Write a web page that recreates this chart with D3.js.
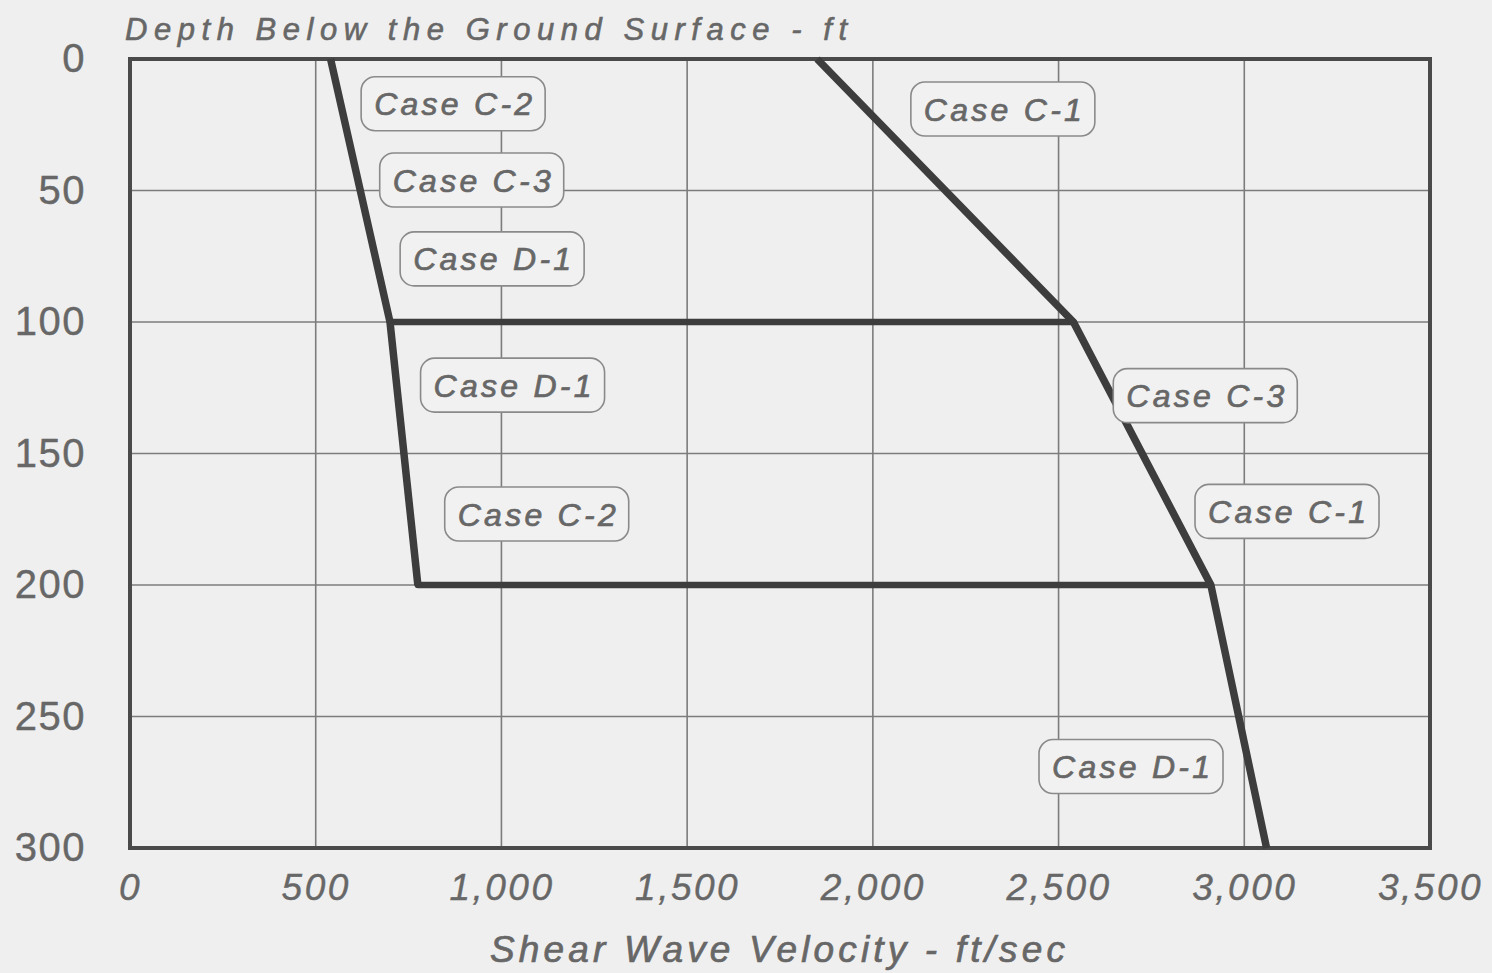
<!DOCTYPE html>
<html>
<head>
<meta charset="utf-8">
<script src="https://cdn.jsdelivr.net/npm/d3@7"></script>
<style>
  html, body { margin: 0; padding: 0; background: #efefef; }
  svg { display: block; }
</style>
</head>
<body>
<svg id="chart" width="1492" height="973"></svg>
<script>
// Shear wave velocity profiles (ft/sec) against depth (ft)
const leftDepths = [0, 100, 200];
const leftVelocity = [540, 700, 775];

const rightDepths = [0, 100, 200, 300];
const rightVelocity = [1850, 2540, 2910, 3060];

// Layer boundaries joining the two profiles
const boundaryDepths = [100, 200];
const boundaryFrom = [700, 775];
const boundaryTo = [2540, 2910];

// Axis ticks
const xTicks = [0, 500, 1000, 1500, 2000, 2500, 3000, 3500];
const xTickLabels = ["0", "500", "1,000", "1,500", "2,000", "2,500", "3,000", "3,500"];
const yTicks = [0, 50, 100, 150, 200, 250, 300];

// Case annotations, placed in data coordinates (velocity, depth)
const caseNames = ["Case C-2", "Case C-3", "Case D-1", "Case D-1", "Case C-2",
                   "Case C-1", "Case C-3", "Case C-1", "Case D-1"];
const caseVelocity = [870, 920, 975, 1030, 1095, 2350, 2895, 3115, 2695];
const caseDepth = [17, 46, 76, 124, 173, 19, 128, 172, 269];

const svg = d3.select("#chart");
const plot = { left: 130, right: 1430, top: 59, bottom: 848 };

const x = d3.scaleLinear().domain([0, 3500]).range([plot.left, plot.right]);
const y = d3.scaleLinear().domain([0, 300]).range([plot.top, plot.bottom]);

const ink = "#3d3d3d";
const textGray = "#676767";
const fontFamily = "Liberation Sans, Arial, sans-serif";

// Slightly heavier strokes on glyphs for the printed look
function heavy(sel, w) {
  return sel.attr("stroke", textGray).attr("stroke-width", w).attr("paint-order", "stroke");
}

// Grid
svg.append("g")
  .selectAll("line")
  .data(xTicks.slice(1, -1))
  .join("line")
  .attr("x1", d => x(d)).attr("x2", d => x(d))
  .attr("y1", plot.top).attr("y2", plot.bottom)
  .attr("stroke", "#7c7c7c").attr("stroke-width", 1.6);

svg.append("g")
  .selectAll("line")
  .data(yTicks.slice(1, -1))
  .join("line")
  .attr("x1", plot.left).attr("x2", plot.right)
  .attr("y1", d => y(d)).attr("y2", d => y(d))
  .attr("stroke", "#7c7c7c").attr("stroke-width", 1.6);

// Frame
svg.append("rect")
  .attr("x", plot.left).attr("y", plot.top)
  .attr("width", plot.right - plot.left).attr("height", plot.bottom - plot.top)
  .attr("fill", "none").attr("stroke", "#4a4a4a").attr("stroke-width", 4);

// Axis tick labels
const xAxis = d3.axisBottom(x).tickValues(xTicks)
  .tickFormat((d, i) => xTickLabels[i]).tickSize(0).tickPadding(26);
svg.append("g")
  .attr("transform", `translate(0,${plot.bottom})`)
  .call(xAxis)
  .call(g => g.select(".domain").remove())
  .call(g => g.selectAll("text")
    .attr("font-family", fontFamily)
    .attr("font-size", 37)
    .attr("font-style", "italic")
    .attr("letter-spacing", 2.5)
    .attr("fill", textGray)
    .call(heavy, 0.4));

const yAxis = d3.axisLeft(y).tickValues(yTicks).tickSize(0).tickPadding(44);
svg.append("g")
  .attr("transform", `translate(${plot.left},0)`)
  .call(yAxis)
  .call(g => g.select(".domain").remove())
  .call(g => g.selectAll("text")
    .attr("font-family", fontFamily)
    .attr("font-size", 40)
    .attr("letter-spacing", 1.5)
    .attr("fill", textGray)
    .call(heavy, 0.4));

// Axis titles
svg.append("text")
  .attr("x", 125).attr("y", 40)
  .attr("font-family", fontFamily)
  .attr("font-size", 31).attr("font-style", "italic")
  .attr("textLength", 722).attr("lengthAdjust", "spacing")
  .attr("fill", textGray)
  .call(heavy, 0.6)
  .text("Depth Below the Ground Surface - ft");

svg.append("text")
  .attr("x", 490).attr("y", 962)
  .attr("font-family", fontFamily)
  .attr("font-size", 37).attr("font-style", "italic")
  .attr("textLength", 575).attr("lengthAdjust", "spacing")
  .attr("fill", textGray)
  .call(heavy, 0.7)
  .text("Shear Wave Velocity - ft/sec");

// Layer boundaries
svg.append("g")
  .selectAll("line")
  .data(boundaryDepths)
  .join("line")
  .attr("x1", (d, i) => x(boundaryFrom[i]))
  .attr("x2", (d, i) => x(boundaryTo[i]))
  .attr("y1", d => y(d)).attr("y2", d => y(d))
  .attr("stroke", ink).attr("stroke-width", 6.5)
  .attr("stroke-linecap", "round");

// Velocity profiles
const line = d3.line().x(d => x(d[0])).y(d => y(d[1]));
const profiles = [
  d3.zip(leftVelocity, leftDepths),
  d3.zip(rightVelocity, rightDepths)
];
svg.append("g")
  .selectAll("path")
  .data(profiles)
  .join("path")
  .attr("d", line)
  .attr("fill", "none")
  .attr("stroke", ink).attr("stroke-width", 7.5)
  .attr("stroke-linejoin", "round");

// Case labels in rounded boxes
const boxW = 184, boxH = 54;
const labels = svg.append("g")
  .selectAll("g")
  .data(caseNames)
  .join("g")
  .attr("transform", (d, i) => `translate(${x(caseVelocity[i])},${y(caseDepth[i])})`);

labels.append("rect")
  .attr("x", -boxW / 2).attr("y", -boxH / 2)
  .attr("width", boxW).attr("height", boxH)
  .attr("rx", 14).attr("ry", 14)
  .attr("fill", "#f1f1f1")
  .attr("stroke", "#8a8a8a").attr("stroke-width", 1.6);

labels.append("text")
  .attr("text-anchor", "middle")
  .attr("dy", "0.36em")
  .attr("font-family", fontFamily)
  .attr("font-size", 32).attr("font-style", "italic")
  .attr("textLength", 158).attr("lengthAdjust", "spacing")
  .attr("fill", textGray)
  .call(heavy, 0.7)
  .text(d => d);
</script>
</body>
</html>
